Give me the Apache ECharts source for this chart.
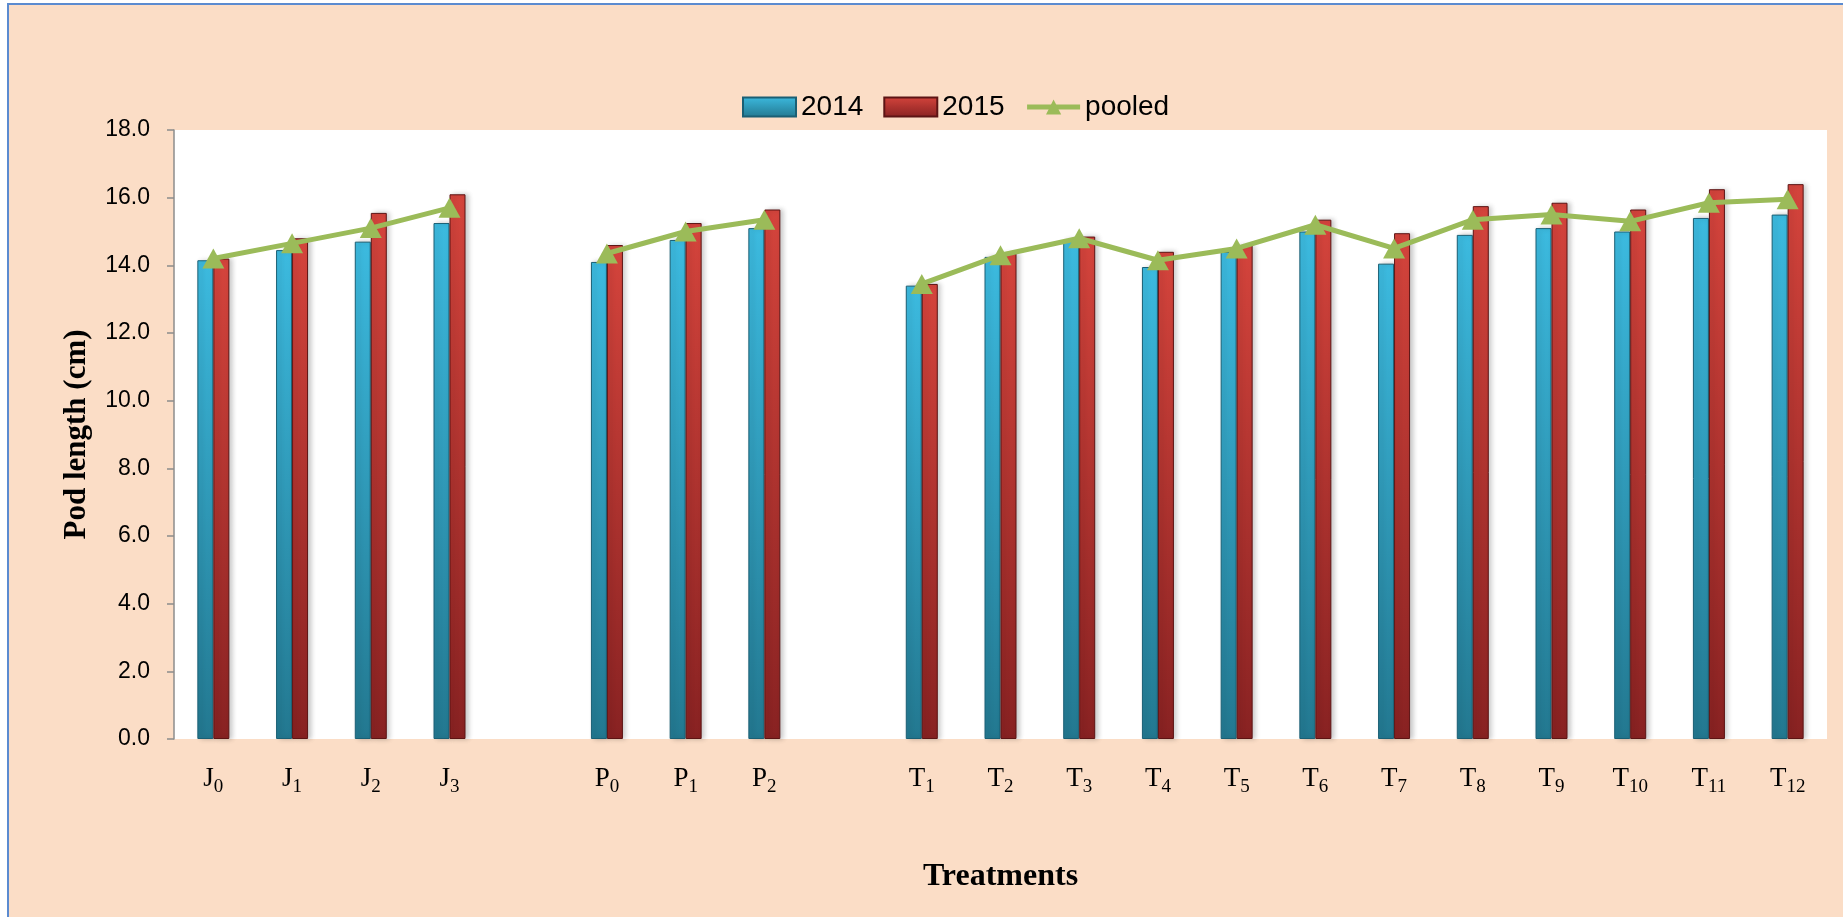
<!DOCTYPE html>
<html>
<head>
<meta charset="utf-8">
<title>Pod length by treatment</title>
<script src="https://cdn.jsdelivr.net/npm/echarts@6/dist/echarts.min.js"></script>
<style>
  html, body { margin: 0; padding: 0; background: #ffffff; }
  #chart { width: 1843px; height: 917px; }
</style>
</head>
<body>
<div id="chart"></div>
<script>
// Treatments; empty entries leave a gap between the J, P and T groups
const categories = ['J0', 'J1', 'J2', 'J3', '', 'P0', 'P1', 'P2', '',
  'T1', 'T2', 'T3', 'T4', 'T5', 'T6', 'T7', 'T8', 'T9', 'T10', 'T11', 'T12'];

// Pod length (cm)
const values2014 = [14.15, 14.45, 14.70, 15.25, null, 14.10, 14.75, 15.10, null,
  13.40, 14.25, 14.75, 13.95, 14.40, 15.00, 14.05, 14.90, 15.10, 15.00, 15.40, 15.50];
const values2015 = [14.20, 14.80, 15.55, 16.10, null, 14.60, 15.25, 15.65, null,
  13.45, 14.35, 14.85, 14.40, 14.60, 15.35, 14.95, 15.75, 15.85, 15.65, 16.25, 16.40];
const valuesPooled = [14.20, 14.65, 15.10, 15.70, null, 14.35, 15.00, 15.35, null,
  13.45, 14.30, 14.80, 14.15, 14.50, 15.20, 14.50, 15.35, 15.50, 15.30, 15.85, 15.95];

const seriesNames = ['2014', '2015', 'pooled'];
const yMin = 0, yMax = 18, yStep = 2;

const serif = '"Liberation Serif", "Times New Roman", serif';
const sans = '"Liberation Sans", Arial, sans-serif';
const green = '#9BBB59';

function barGradient(top, bottom) {
  return new echarts.graphic.LinearGradient(0, 0, 0, 1, [
    { offset: 0, color: top },
    { offset: 1, color: bottom }
  ]);
}

// "T12" -> T with a subscript 12
function treatmentLabel(v) {
  const m = /^([A-Za-z]+)(\d+)$/.exec(v);
  if (!m) return v;
  return '{m|' + m[1] + '}{s|' + m[2] + '}';
}

const chart = echarts.init(document.getElementById('chart'), null, { renderer: 'canvas' });

chart.setOption({
  animation: false,
  backgroundColor: '#ffffff',
  graphic: [{
    type: 'rect',
    z: -10,
    silent: true,
    shape: { x: 8, y: 4, width: 1900, height: 1000 },
    style: { fill: '#FBDDC6', stroke: '#5B8BD0', lineWidth: 2 }
  }],
  legend: {
    left: 737,
    top: 88,
    itemWidth: 53,
    itemHeight: 19,
    itemGap: 20,
    textStyle: { fontFamily: sans, fontSize: 28, color: '#000000' },
    data: [
      { name: seriesNames[0], icon: 'rect' },
      { name: seriesNames[1], icon: 'rect' },
      { name: seriesNames[2], lineStyle: { width: 5, color: green } }
    ]
  },
  grid: {
    left: 174,
    right: 16,
    top: 130,
    bottom: 178,
    show: true,
    backgroundColor: '#ffffff',
    borderWidth: 0,
    containLabel: false,
    outerBoundsMode: 'none'
  },
  xAxis: {
    type: 'category',
    data: categories,
    axisLine: { show: false },
    axisTick: { show: false },
    name: 'Treatments',
    nameLocation: 'middle',
    nameGap: 122,
    nameTextStyle: { fontFamily: serif, fontSize: 32, fontWeight: 'bold', color: '#000000' },
    axisLabel: {
      interval: 0,
      margin: 26,
      formatter: treatmentLabel,
      rich: {
        m: { fontFamily: serif, fontSize: 27, color: '#000000', lineHeight: 30, verticalAlign: 'top' },
        s: { fontFamily: serif, fontSize: 19, color: '#000000', lineHeight: 20, padding: [13, 0, 0, 0], verticalAlign: 'top' }
      }
    }
  },
  yAxis: {
    type: 'value',
    min: yMin,
    max: yMax,
    interval: yStep,
    splitLine: { show: false },
    axisLine: { show: true, lineStyle: { color: '#8C8C8C', width: 1.5 } },
    axisTick: { show: true, length: 7, lineStyle: { color: '#8C8C8C', width: 1.5 } },
    axisLabel: {
      margin: 24,
      fontFamily: sans,
      fontSize: 23,
      color: '#000000',
      formatter: v => v.toFixed(1)
    },
    name: 'Pod length (cm)',
    nameLocation: 'middle',
    nameGap: 82,
    nameTextStyle: { fontFamily: serif, fontSize: 31, fontWeight: 'bold', color: '#000000' }
  },
  series: [
    {
      name: seriesNames[0],
      type: 'bar',
      data: values2014,
      barWidth: 16,
      barGap: '0%',
      itemStyle: {
        color: barGradient('#3CBADF', '#237890'),
        borderColor: '#1A5F74',
        borderWidth: 1,
        shadowColor: 'rgba(0,0,0,0.22)',
        shadowBlur: 5,
        shadowOffsetX: 3
      }
    },
    {
      name: seriesNames[1],
      type: 'bar',
      data: values2015,
      barWidth: 16,
      barGap: '0%',
      itemStyle: {
        color: barGradient('#D4443C', '#882222'),
        borderColor: '#5C1414',
        borderWidth: 1,
        shadowColor: 'rgba(0,0,0,0.22)',
        shadowBlur: 5,
        shadowOffsetX: 3
      }
    },
    {
      name: seriesNames[2],
      type: 'line',
      data: valuesPooled,
      connectNulls: false,
      symbol: 'triangle',
      symbolSize: [22, 20],
      z: 5,
      lineStyle: { color: green, width: 5 },
      itemStyle: { color: green }
    }
  ]
});
</script>
</body>
</html>
